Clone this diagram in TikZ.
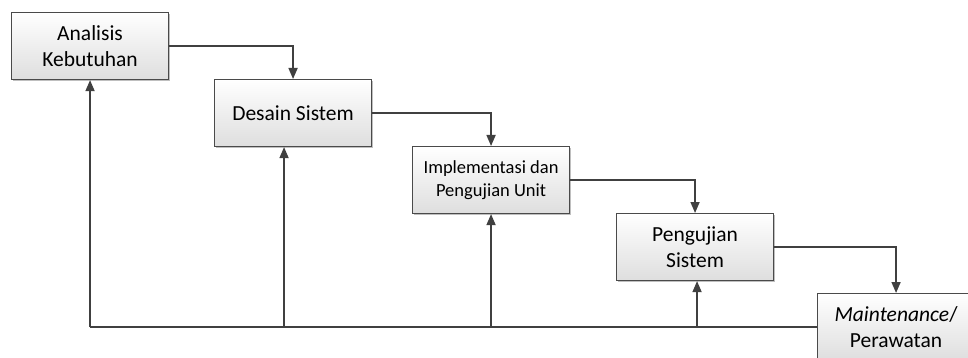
\documentclass[tikz,border=0pt]{standalone}
\usepackage{fontspec}
\setmainfont{Carlito}
\usetikzlibrary{arrows.meta,shadows}
\definecolor{linegray}{HTML}{404040}
\definecolor{boxline}{HTML}{4A4A4A}
\tikzset{
  box/.style={draw=boxline, line width=1.1pt, rectangle, anchor=north west,
    minimum width=157pt, minimum height=67pt, inner sep=2pt,
    top color=white, bottom color=black!13, align=center,
    font=\fontsize{21.5}{26.2}\selectfont,
    drop shadow={shadow xshift=1.6pt, shadow yshift=-1.6pt, opacity=0.25, fill=black}},
  smallbox/.style={box, font=\fontsize{18.5}{23}\selectfont},
  conn/.style={draw=linegray, line width=1.6pt, -{Triangle[length=11pt,width=9pt]}},
  plain/.style={draw=linegray, line width=1.6pt}
}
\begin{document}
\begin{tikzpicture}[x=1pt,y=-1pt]
\path[use as bounding box, clip] (0,0) rectangle (968,358);
\node[box] (A) at (11,12) {Analisis\\Kebutuhan};
\node[box] (D) at (214,79) {Desain Sistem};
\node[smallbox] (I) at (412,146) {Implementasi dan\\Pengujian Unit};
\node[box] (P) at (616,213) {Pengujian\\Sistem};
\node[box] (M) at (817,293) {\textit{Maintenance}/\\Perawatan};
% forward flow
\draw[conn] (A.east) -| (D.north);
\draw[conn] (D.east) -| (I.north);
\draw[conn] (I.east) -| (P.north);
\draw[conn] (P.east) -| (M.north);
% feedback
\coordinate (fA) at (A.south |- M.west);
\coordinate (dx) at ([xshift=-9pt]D.south);
\coordinate (fD) at (dx |- M.west);
\coordinate (fI) at (I.south |- M.west);
\coordinate (px) at ([xshift=2pt]P.south);
\coordinate (fP) at (px |- M.west);
\draw[plain] (M.west) -- (fA);
\draw[conn] (fA) -- (A.south);
\draw[conn] (fD) -- (dx);
\draw[conn] (fI) -- (I.south);
\draw[conn] (fP) -- (px);
\end{tikzpicture}
\end{document}
